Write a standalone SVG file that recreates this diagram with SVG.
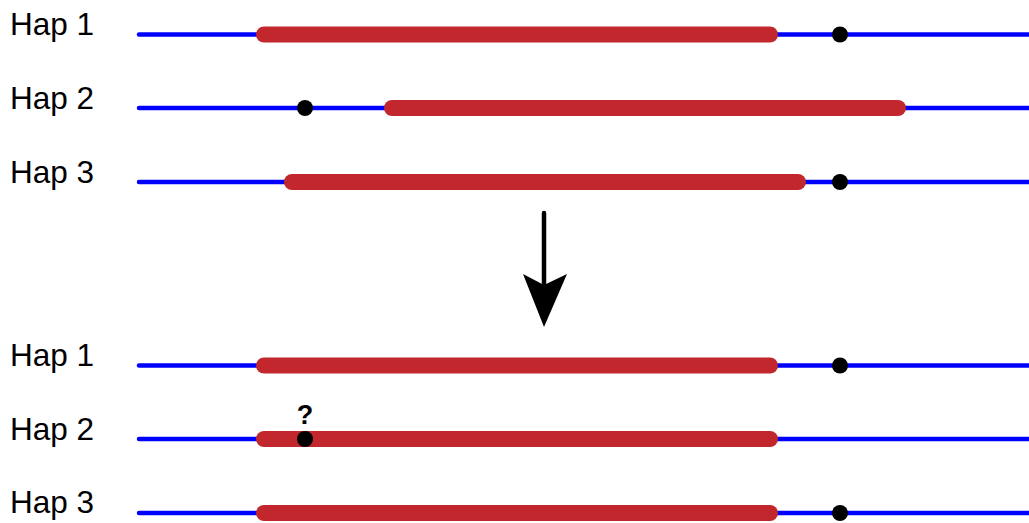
<svg xmlns="http://www.w3.org/2000/svg" width="1029" height="523" viewBox="0 0 1029 523">
<style>
.lbl{font-family:"Liberation Sans",Arial,sans-serif;font-size:31.5px;fill:#000}
.q{font-family:"Liberation Sans",Arial,sans-serif;font-size:27px;font-weight:bold;fill:#000;text-anchor:middle}
.hap{stroke:#0000FF;stroke-width:4.5;stroke-linecap:round;fill:none}
.blk{stroke:#C1272D;stroke-width:16;stroke-linecap:round;fill:none}
.dot{fill:#000}
</style>
<rect width="1029" height="523" fill="#fff"/>
<g id="top-hap1">
<text class="lbl" x="10" y="35">Hap 1</text>
<line class="hap" x1="139" y1="34.5" x2="1035" y2="34.5"/>
<line class="blk" x1="264" y1="34.5" x2="770" y2="34.5"/>
<circle class="dot" cx="840" cy="34.5" r="8"/>
</g>
<g id="top-hap2">
<text class="lbl" x="10" y="109">Hap 2</text>
<line class="hap" x1="139" y1="108" x2="1035" y2="108"/>
<line class="blk" x1="392" y1="108" x2="898" y2="108"/>
<circle class="dot" cx="305" cy="108" r="8"/>
</g>
<g id="top-hap3">
<text class="lbl" x="10" y="183">Hap 3</text>
<line class="hap" x1="139" y1="182" x2="1035" y2="182"/>
<line class="blk" x1="292" y1="182" x2="798" y2="182"/>
<circle class="dot" cx="840" cy="182" r="8"/>
</g>
<g id="connectors">
<line x1="544" y1="213" x2="544" y2="285" stroke="#000" stroke-width="4.5" stroke-linecap="round"/>
<polygon points="523,274 544,285 567,274 544,327" fill="#000"/>
</g>
<g id="bot-hap1">
<text class="lbl" x="10" y="366">Hap 1</text>
<line class="hap" x1="139" y1="365.5" x2="1035" y2="365.5"/>
<line class="blk" x1="264" y1="365.5" x2="770" y2="365.5"/>
<circle class="dot" cx="840" cy="365.5" r="8"/>
</g>
<g id="bot-hap2">
<text class="lbl" x="10" y="440">Hap 2</text>
<line class="hap" x1="139" y1="439" x2="1035" y2="439"/>
<line class="blk" x1="264" y1="439" x2="770" y2="439"/>
<circle class="dot" cx="305" cy="439" r="8"/>
<text class="q" x="305" y="424">?</text>
</g>
<g id="bot-hap3">
<text class="lbl" x="10" y="513">Hap 3</text>
<line class="hap" x1="139" y1="513" x2="1035" y2="513"/>
<line class="blk" x1="264" y1="513" x2="770" y2="513"/>
<circle class="dot" cx="840" cy="513" r="8"/>
</g>
</svg>
